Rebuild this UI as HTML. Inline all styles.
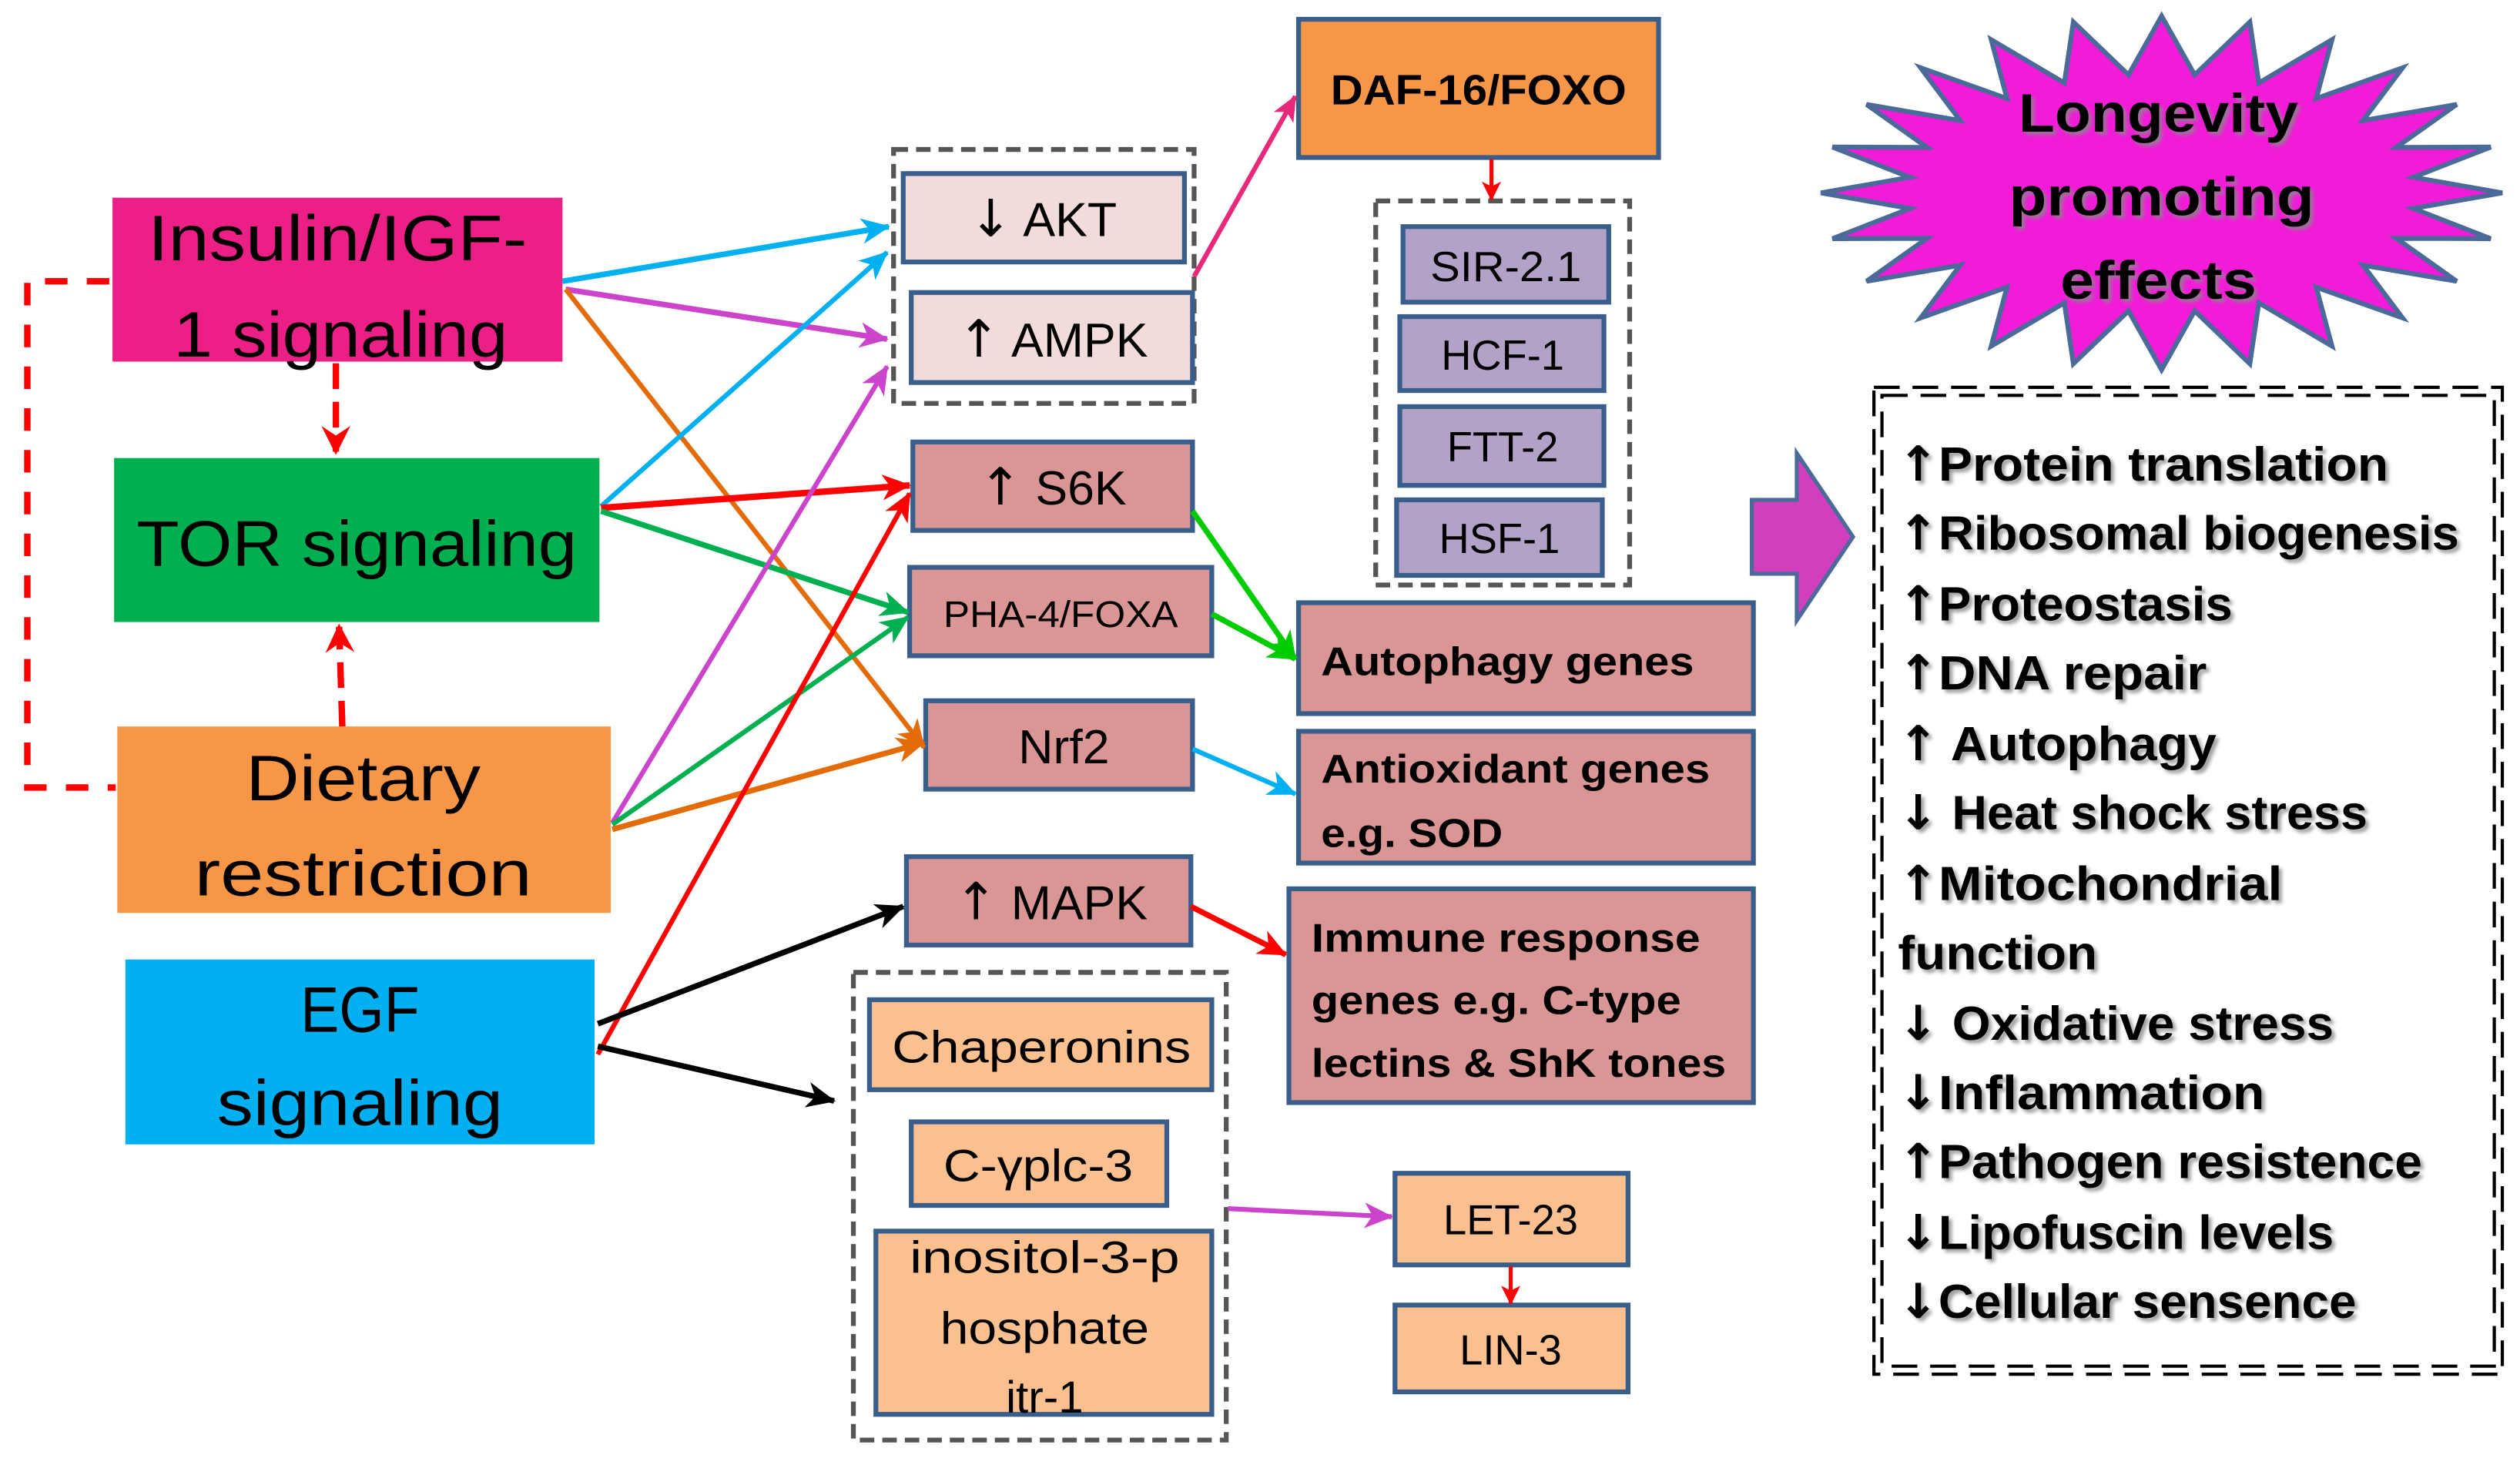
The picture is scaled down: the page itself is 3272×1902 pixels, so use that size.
<!DOCTYPE html>
<html><head><meta charset="utf-8">
<style>
html,body{margin:0;padding:0;background:#fff;}
svg{display:block;}
text{font-family:"Liberation Sans",sans-serif;fill:#000;}
.b{font-weight:bold;}
.sh{filter:url(#shadow);}
.ar{font-family:"DejaVu Sans",sans-serif;}
</style></head>
<body>
<svg width="3272" height="1902" viewBox="0 0 1568 911.5" preserveAspectRatio="none" xmlns="http://www.w3.org/2000/svg">
<defs>
<filter id="shadow" x="-5%" y="-20%" width="115%" height="150%"><feDropShadow dx="2" dy="2" stdDeviation="1.2" flood-color="#888" flood-opacity="0.8"/></filter>
<marker id="mC" markerWidth="18" markerHeight="18" refX="17" refY="9" orient="auto" markerUnits="userSpaceOnUse" viewBox="0 0 18 18"><path d="M0,1 L18,9 L0,17 L5,9z" fill="#00B0F0"/></marker>
<marker id="mM" markerWidth="18" markerHeight="18" refX="17" refY="9" orient="auto" markerUnits="userSpaceOnUse" viewBox="0 0 18 18"><path d="M0,1 L18,9 L0,17 L5,9z" fill="#CC44CC"/></marker>
<marker id="mO" markerWidth="18" markerHeight="18" refX="17" refY="9" orient="auto" markerUnits="userSpaceOnUse" viewBox="0 0 18 18"><path d="M0,1 L18,9 L0,17 L5,9z" fill="#E36C09"/></marker>
<marker id="mR" markerWidth="18" markerHeight="18" refX="17" refY="9" orient="auto" markerUnits="userSpaceOnUse" viewBox="0 0 18 18"><path d="M0,1 L18,9 L0,17 L5,9z" fill="#FF0000"/></marker>
<marker id="mG" markerWidth="18" markerHeight="18" refX="17" refY="9" orient="auto" markerUnits="userSpaceOnUse" viewBox="0 0 18 18"><path d="M0,1 L18,9 L0,17 L5,9z" fill="#00B050"/></marker>
<marker id="mG2" markerWidth="18" markerHeight="18" refX="17" refY="9" orient="auto" markerUnits="userSpaceOnUse" viewBox="0 0 18 18"><path d="M0,1 L18,9 L0,17 L5,9z" fill="#00CC00"/></marker>
<marker id="mK" markerWidth="18" markerHeight="18" refX="17" refY="9" orient="auto" markerUnits="userSpaceOnUse" viewBox="0 0 18 18"><path d="M0,1 L18,9 L0,17 L5,9z" fill="#000"/></marker>
<marker id="mP" markerWidth="16" markerHeight="16" refX="15" refY="8" orient="auto" markerUnits="userSpaceOnUse" viewBox="0 0 16 16"><path d="M0,1 L16,8 L0,15 L4,8z" fill="#E8287A"/></marker>
<marker id="mRs" markerWidth="12" markerHeight="12" refX="11" refY="6" orient="auto" markerUnits="userSpaceOnUse" viewBox="0 0 12 12"><path d="M0,0 L12,6 L0,12 L3,6z" fill="#FF0000"/></marker>
<marker id="mRb" markerWidth="18" markerHeight="18" refX="16" refY="9" orient="auto" markerUnits="userSpaceOnUse" viewBox="0 0 18 18"><path d="M0,0 L18,9 L0,18 L6,9z" fill="#FF0000"/></marker>
</defs>

<path d="M68,175 H17 V490 H72" fill="none" stroke="#FF0000" stroke-width="4" stroke-dasharray="14,12"/>
<line x1="209" y1="226" x2="209" y2="281" stroke="#FF0000" stroke-width="4" stroke-dasharray="16,8" marker-end="url(#mRb)"/>
<line x1="213" y1="452" x2="211" y2="390" stroke="#FF0000" stroke-width="4" stroke-dasharray="16,8" marker-end="url(#mRb)"/>

<rect x="70" y="123" width="280" height="102" fill="#EC1F87"/>
<text x="210" y="162" font-size="40" text-anchor="middle" textLength="236" lengthAdjust="spacingAndGlyphs">Insulin/IGF-</text>
<text x="212" y="222" font-size="40" text-anchor="middle" textLength="208" lengthAdjust="spacingAndGlyphs">1 signaling</text>
<rect x="71" y="285" width="302" height="102" fill="#00B050"/>
<text x="222" y="352" font-size="40" text-anchor="middle" textLength="274" lengthAdjust="spacingAndGlyphs">TOR signaling</text>
<rect x="73" y="452" width="307" height="116" fill="#F79646"/>
<text x="226" y="498" font-size="40" text-anchor="middle" textLength="146" lengthAdjust="spacingAndGlyphs">Dietary</text>
<text x="226" y="557" font-size="40" text-anchor="middle" textLength="210" lengthAdjust="spacingAndGlyphs">restriction</text>
<rect x="78" y="597" width="292" height="115" fill="#00B0F0"/>
<text x="224" y="642" font-size="40" text-anchor="middle" textLength="74" lengthAdjust="spacingAndGlyphs">EGF</text>
<text x="224" y="700" font-size="40" text-anchor="middle" textLength="178" lengthAdjust="spacingAndGlyphs">signaling</text>

<rect x="556" y="93" width="187" height="158" fill="none" stroke="#555" stroke-width="3" stroke-dasharray="9,5"/>
<rect x="856" y="125" width="158" height="239" fill="none" stroke="#555" stroke-width="3" stroke-dasharray="9,5"/>
<rect x="531" y="605" width="232" height="291" fill="none" stroke="#555" stroke-width="3" stroke-dasharray="9,5"/>

<g stroke="#3A5E8C" stroke-width="3">
<rect x="562" y="108" width="175" height="55" fill="#F2DCDB"/>
<rect x="567" y="182" width="175" height="56" fill="#F2DCDB"/>
<rect x="568" y="275" width="174" height="55" fill="#D99694"/>
<rect x="566" y="353" width="188" height="55" fill="#D99694"/>
<rect x="576" y="436" width="166" height="55" fill="#D99694"/>
<rect x="564" y="533" width="177" height="55" fill="#D99694"/>
<rect x="541" y="622" width="213" height="56" fill="#FAC090"/>
<rect x="567" y="698" width="159" height="52" fill="#FAC090"/>
<rect x="545" y="766" width="209" height="114" fill="#FAC090"/>
<rect x="808" y="12" width="224" height="86" fill="#F79646"/>
<rect x="873" y="141" width="128" height="47" fill="#B3A2C7"/>
<rect x="871" y="197" width="127" height="46" fill="#B3A2C7"/>
<rect x="871" y="253" width="127" height="49" fill="#B3A2C7"/>
<rect x="869" y="311" width="128" height="47" fill="#B3A2C7"/>
<rect x="808" y="375" width="283" height="69" fill="#D99694"/>
<rect x="808" y="455" width="283" height="82" fill="#D99694"/>
<rect x="802" y="553" width="289" height="133" fill="#D99694"/>
<rect x="868" y="730" width="145" height="57" fill="#FAC090"/>
<rect x="868" y="812" width="145" height="54" fill="#FAC090"/>
</g>

<g font-size="30">
<text x="649" y="147" text-anchor="middle"><tspan class="ar" font-size="32">↓</tspan> AKT</text>
<text x="655" y="222" text-anchor="middle"><tspan class="ar" font-size="32">↑</tspan> AMPK</text>
<text x="655" y="314" text-anchor="middle"><tspan class="ar" font-size="32">↑</tspan> S6K</text>
<text x="660" y="390" text-anchor="middle" font-size="23" textLength="146" lengthAdjust="spacingAndGlyphs">PHA-4/FOXA</text>
<text x="662" y="475" text-anchor="middle">Nrf2</text>
<text x="654" y="572" text-anchor="middle"><tspan class="ar" font-size="32">↑</tspan> MAPK</text>
<text x="648" y="661" text-anchor="middle" font-size="28" textLength="186" lengthAdjust="spacingAndGlyphs">Chaperonins</text>
<text x="646" y="735" text-anchor="middle" font-size="28" textLength="118" lengthAdjust="spacingAndGlyphs">C-γplc-3</text>
<text x="650" y="792" text-anchor="middle" font-size="28" textLength="168" lengthAdjust="spacingAndGlyphs">inositol-3-p</text>
<text x="650" y="836" text-anchor="middle" font-size="28" textLength="130" lengthAdjust="spacingAndGlyphs">hosphate</text>
<text x="650" y="879" text-anchor="middle" font-size="28">itr-1</text>
<text x="920" y="65" text-anchor="middle" font-size="26" class="b" textLength="184" lengthAdjust="spacingAndGlyphs">DAF-16/FOXO</text>
<text x="937" y="175" text-anchor="middle" font-size="26" textLength="94" lengthAdjust="spacingAndGlyphs">SIR-2.1</text>
<text x="935" y="230" text-anchor="middle" font-size="26">HCF-1</text>
<text x="935" y="287" text-anchor="middle" font-size="26">FTT-2</text>
<text x="933" y="344" text-anchor="middle" font-size="26">HSF-1</text>
<text x="822" y="420" font-size="25" class="b" textLength="232" lengthAdjust="spacingAndGlyphs">Autophagy genes</text>
<text x="822" y="487" font-size="25" class="b" textLength="242" lengthAdjust="spacingAndGlyphs">Antioxidant genes</text>
<text x="822" y="527" font-size="25" class="b" textLength="113" lengthAdjust="spacingAndGlyphs">e.g. SOD</text>
<text x="816" y="592" font-size="25" class="b" textLength="242" lengthAdjust="spacingAndGlyphs">Immune response</text>
<text x="816" y="631" font-size="25" class="b" textLength="230" lengthAdjust="spacingAndGlyphs">genes e.g. C-type</text>
<text x="816" y="670" font-size="25" class="b" textLength="258" lengthAdjust="spacingAndGlyphs">lectins &amp; ShK tones</text>
<text x="940" y="768" text-anchor="middle" font-size="26">LET-23</text>
<text x="940" y="849" text-anchor="middle" font-size="26">LIN-3</text>
</g>

<g fill="none" stroke-width="3.5">
<line x1="350" y1="175" x2="553" y2="141" stroke="#00B0F0" marker-end="url(#mC)"/>
<line x1="352" y1="180" x2="552" y2="211" stroke="#CC44CC" marker-end="url(#mM)"/>
<line x1="352" y1="180" x2="575" y2="465" stroke="#E36C09" stroke-width="3" marker-end="url(#mO)"/>
<line x1="374" y1="315" x2="552" y2="157" stroke="#00B0F0" stroke-width="3" marker-end="url(#mC)"/>
<line x1="374" y1="316" x2="566" y2="302" stroke="#FF0000" stroke-width="4" marker-end="url(#mR)"/>
<line x1="374" y1="318" x2="565" y2="381" stroke="#00B050" marker-end="url(#mG)"/>
<line x1="381" y1="512" x2="552" y2="228" stroke="#CC44CC" stroke-width="3" marker-end="url(#mM)"/>
<line x1="381" y1="513" x2="565" y2="384" stroke="#00B050" stroke-width="3" marker-end="url(#mG)"/>
<line x1="381" y1="516" x2="575" y2="462" stroke="#E36C09" marker-end="url(#mO)"/>
<line x1="372" y1="656" x2="566" y2="307" stroke="#FF0000" stroke-width="3" marker-end="url(#mR)"/>
<line x1="372" y1="637" x2="562" y2="564" stroke="#000" marker-end="url(#mK)"/>
<line x1="372" y1="651" x2="519" y2="685" stroke="#000" marker-end="url(#mK)"/>
<line x1="743" y1="172" x2="806" y2="60" stroke="#E8287A" stroke-width="3" marker-end="url(#mP)"/>
<line x1="742" y1="318" x2="806" y2="410" stroke="#00CC00" marker-end="url(#mG2)"/>
<line x1="754" y1="382" x2="806" y2="410" stroke="#00CC00" marker-end="url(#mG2)"/>
<line x1="742" y1="466" x2="806" y2="494" stroke="#00B0F0" stroke-width="3" marker-end="url(#mC)"/>
<line x1="741" y1="564" x2="800" y2="594" stroke="#FF0000" marker-end="url(#mR)"/>
<line x1="764" y1="752" x2="866" y2="757" stroke="#CC44CC" stroke-width="3" marker-end="url(#mM)"/>
<line x1="928" y1="99" x2="928" y2="124" stroke="#FF0000" stroke-width="2.5" marker-end="url(#mRs)"/>
<line x1="940" y1="788" x2="940" y2="811" stroke="#FF0000" stroke-width="2.5" marker-end="url(#mRs)"/>
</g>

<path d="M1090,311 H1118 V282 L1153,334 L1118,386 V357 H1090 Z" fill="#D23FBE" stroke="#4A6A9A" stroke-width="2.5"/>

<polygon id="star" fill="#F21BD8" stroke="#4A6A9A" stroke-width="3" points=""/>
<script>
(function(){var cx=1345,cy=120,ox=212,oy=110,ix=158,iy=74,n=24,p=[];
for(var i=0;i<2*n;i++){var a=Math.PI*i/n-Math.PI/2;var rx=i%2?ix:ox,ry=i%2?iy:oy;p.push((cx+rx*Math.cos(a)).toFixed(1)+","+(cy+ry*Math.sin(a)).toFixed(1));}
document.getElementById('star').setAttribute('points',p.join(' '));})();
</script>
<g class="b sh" font-size="34" text-anchor="middle">
<text x="1343" y="82" textLength="174" lengthAdjust="spacingAndGlyphs">Longevity</text>
<text x="1345" y="134" textLength="190" lengthAdjust="spacingAndGlyphs">promoting</text>
<text x="1343" y="186" textLength="122" lengthAdjust="spacingAndGlyphs">effects</text>
</g>

<rect x="1166" y="241" width="391" height="614" fill="none" stroke="#000" stroke-width="2" stroke-dasharray="16,8"/>
<rect x="1171" y="246" width="381" height="604" fill="none" stroke="#000" stroke-width="2" stroke-dasharray="16,8"/>

<g class="b sh" font-size="30">
<text x="1181" y="299"><tspan class="ar">↑</tspan><tspan textLength="280" lengthAdjust="spacingAndGlyphs">Protein translation</tspan></text>
<text x="1181" y="342"><tspan class="ar">↑</tspan><tspan textLength="324" lengthAdjust="spacingAndGlyphs">Ribosomal biogenesis</tspan></text>
<text x="1181" y="386"><tspan class="ar">↑</tspan><tspan textLength="183" lengthAdjust="spacingAndGlyphs">Proteostasis</tspan></text>
<text x="1181" y="429"><tspan class="ar">↑</tspan><tspan textLength="167" lengthAdjust="spacingAndGlyphs">DNA repair</tspan></text>
<text x="1181" y="473"><tspan class="ar">↑</tspan><tspan textLength="173" lengthAdjust="spacingAndGlyphs"> Autophagy</tspan></text>
<text x="1181" y="516"><tspan class="ar">↓</tspan><tspan textLength="267" lengthAdjust="spacingAndGlyphs"> Heat shock stress</tspan></text>
<text x="1181" y="560"><tspan class="ar">↑</tspan><tspan textLength="214" lengthAdjust="spacingAndGlyphs">Mitochondrial</tspan></text>
<text x="1181" y="603" textLength="124" lengthAdjust="spacingAndGlyphs">function</text>
<text x="1181" y="647"><tspan class="ar">↓</tspan><tspan textLength="246" lengthAdjust="spacingAndGlyphs"> Oxidative stress</tspan></text>
<text x="1181" y="690"><tspan class="ar">↓</tspan><tspan textLength="203" lengthAdjust="spacingAndGlyphs">Inflammation</tspan></text>
<text x="1181" y="733"><tspan class="ar">↑</tspan><tspan textLength="301" lengthAdjust="spacingAndGlyphs">Pathogen resistence</tspan></text>
<text x="1181" y="777"><tspan class="ar">↓</tspan><tspan textLength="246" lengthAdjust="spacingAndGlyphs">Lipofuscin levels</tspan></text>
<text x="1181" y="820"><tspan class="ar">↓</tspan><tspan textLength="260" lengthAdjust="spacingAndGlyphs">Cellular sensence</tspan></text>
</g>
</svg>
</body></html>
